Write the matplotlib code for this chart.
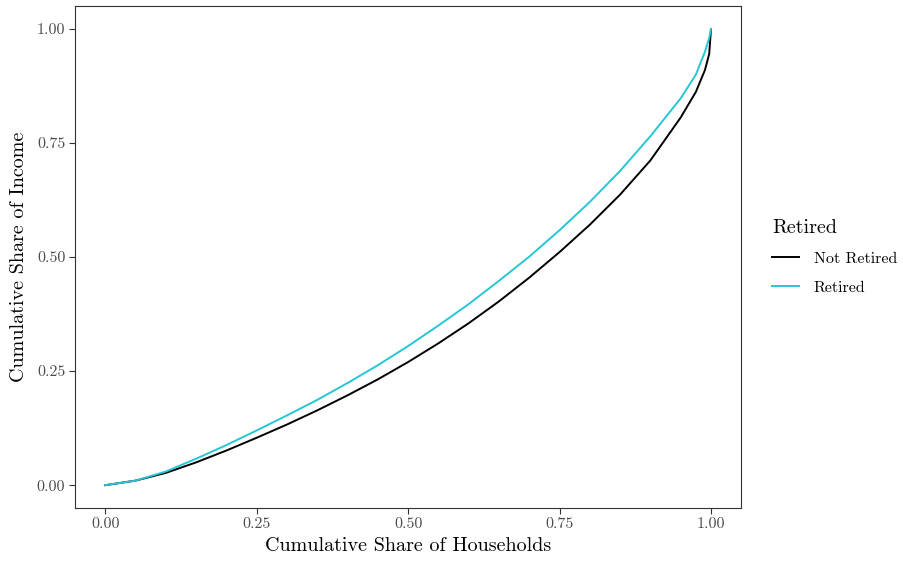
import matplotlib
matplotlib.use("Agg")
import matplotlib.pyplot as plt

plt.rcParams['font.family'] = ['cmr10', 'DejaVu Serif']
plt.rcParams['axes.formatter.use_mathtext'] = True
plt.rcParams['mathtext.fontset'] = 'cm'

# Lorenz curves
share_hh = [0.0, 0.05, 0.10, 0.15, 0.20, 0.25, 0.30, 0.35, 0.40, 0.45, 0.50,
            0.55, 0.60, 0.65, 0.70, 0.75, 0.80, 0.85, 0.90, 0.95, 0.975,
            0.99, 0.997, 1.0]
not_retired = [0.0, 0.010, 0.027, 0.050, 0.076, 0.104, 0.133, 0.164, 0.197,
               0.232, 0.270, 0.311, 0.355, 0.403, 0.455, 0.511, 0.571, 0.637,
               0.712, 0.806, 0.862, 0.910, 0.945, 1.0]
retired = [0.0, 0.010, 0.030, 0.058, 0.088, 0.120, 0.153, 0.187, 0.224,
           0.263, 0.305, 0.350, 0.397, 0.448, 0.501, 0.559, 0.621, 0.689,
           0.765, 0.848, 0.900, 0.950, 0.980, 1.0]

ticks = [0.0, 0.25, 0.5, 0.75, 1.0]
tick_labels = ["0.00", "0.25", "0.50", "0.75", "1.00"]

fig = plt.figure(figsize=(9.04, 5.61), dpi=100)
ax = fig.add_axes([0.083, 0.0945, 0.737, 0.8945])

ax.plot(share_hh, not_retired, color="black", lw=1.4, label="Not Retired")
ax.plot(share_hh, retired, color="#26C6D6", lw=1.4, label="Retired")

ax.set_xlim(-0.05, 1.05)
ax.set_ylim(-0.05, 1.05)
ax.set_xticks(ticks)
ax.set_xticklabels(tick_labels)
ax.set_yticks(ticks)
ax.set_yticklabels(tick_labels)
ax.tick_params(length=4, width=0.8, color="#333333", labelcolor="#4d4d4d",
               labelsize=11.5, pad=3)
for s in ax.spines.values():
    s.set_color("#333333")
    s.set_linewidth(0.8)

ax.set_xlabel("Cumulative Share of Households", fontsize=14.5, labelpad=4)
ax.set_ylabel("Cumulative Share of Income", fontsize=14.5, labelpad=6)

leg = ax.legend(title="Retired", loc="center left", bbox_to_anchor=(1.025, 0.5),
                frameon=False, fontsize=11.5, title_fontsize=14.5,
                handlelength=1.7, handletextpad=0.9, labelspacing=0.9)
leg._legend_box.align = "left"

fig.savefig("out.png", dpi=100)
